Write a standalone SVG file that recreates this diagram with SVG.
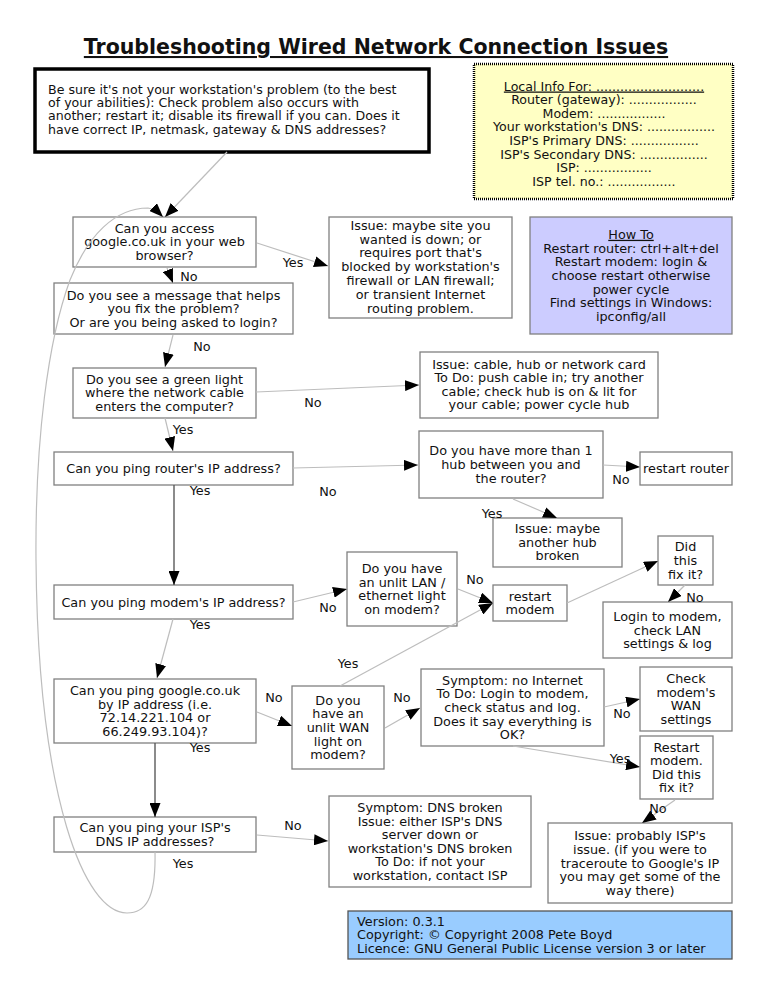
<svg xmlns="http://www.w3.org/2000/svg" width="768" height="994" viewBox="0 0 768 994">
<style>
.bx{fill:#fff;stroke:#808080;stroke-width:1.3}
.t{font-family:"DejaVu Sans","Liberation Sans",sans-serif;font-size:12.8px;fill:#111;text-anchor:middle}
.tc{font-family:"DejaVu Sans","Liberation Sans",sans-serif;font-size:12.6px;fill:#111}
.tl{font-family:"DejaVu Sans","Liberation Sans",sans-serif;font-size:12.8px;fill:#111}
.lb{font-family:"DejaVu Sans","Liberation Sans",sans-serif;font-size:12.8px;fill:#111;text-anchor:middle}
.e{fill:none;stroke:#bdbdbd;stroke-width:1.2;marker-end:url(#ah)}
.ed{fill:none;stroke:#5a5a5a;stroke-width:1.4;marker-end:url(#ah)}
</style>
<defs>
<marker id="ah" markerUnits="userSpaceOnUse" markerWidth="14" markerHeight="11" refX="14" refY="5.5" orient="auto"><path d="M0,0 L14,5.5 L0,11 Z" fill="#000"/></marker>
</defs>
<rect width="768" height="994" fill="#fff"/>
<text x="376" y="54" font-family="DejaVu Sans,Liberation Sans,sans-serif" font-weight="bold" font-size="20.5" text-anchor="middle" text-decoration="underline" fill="#111">Troubleshooting Wired Network Connection Issues</text>

<g id="n-intro"><rect x="35" y="69" width="394" height="83" fill="#fff" stroke="#000" stroke-width="3.5"/>
<text class="tc" x="48" y="93.5"><tspan x="48">Be sure it's not your workstation's problem (to the best</tspan><tspan x="48" dy="13.4">of your abilities): Check problem also occurs with</tspan><tspan x="48" dy="13.4">another; restart it; disable its firewall if you can. Does it</tspan><tspan x="48" dy="13.4">have correct IP, netmask, gateway &amp; DNS addresses?</tspan></text></g>

<g id="n-localinfo"><rect x="474" y="64" width="259" height="135" fill="#ffffc4" stroke="#000" stroke-width="2.5" stroke-dasharray="1 1"/>
<text class="tc" text-anchor="middle" x="604" y="90.5"><tspan x="604" text-decoration="underline">Local Info For: ...........................</tspan><tspan x="604" dy="13.65">Router (gateway): .................</tspan><tspan x="604" dy="13.65">Modem: .................</tspan><tspan x="604" dy="13.65">Your workstation's DNS: .................</tspan><tspan x="604" dy="13.65">ISP's Primary DNS: .................</tspan><tspan x="604" dy="13.65">ISP's Secondary DNS: .................</tspan><tspan x="604" dy="13.65">ISP: .................</tspan><tspan x="604" dy="13.65">ISP tel. no.: .................</tspan></text></g>

<g id="n-access"><rect class="bx" x="73" y="217" width="183" height="50"/>
<text class="t" y="233"><tspan x="164.5">Can you access</tspan><tspan x="164.5" dy="13.4">google.co.uk in your web</tspan><tspan x="164.5" dy="13.4">browser?</tspan></text></g>

<g id="n-message"><rect class="bx" x="54" y="283" width="239" height="51"/>
<text class="t" y="299.5"><tspan x="173.5">Do you see a message that helps</tspan><tspan x="173.5" dy="13.6">you fix the problem?</tspan><tspan x="173.5" dy="13.6">Or are you being asked to login?</tspan></text></g>

<g id="n-issue-site"><rect class="bx" x="329" y="217" width="183" height="101"/>
<text class="t" y="229.8"><tspan x="420.5">Issue: maybe site you</tspan><tspan x="420.5" dy="13.8">wanted is down; or</tspan><tspan x="420.5" dy="13.8">requires port that's</tspan><tspan x="420.5" dy="13.8">blocked by workstation's</tspan><tspan x="420.5" dy="13.8">firewall or LAN firewall;</tspan><tspan x="420.5" dy="13.8">or transient Internet</tspan><tspan x="420.5" dy="13.8">routing problem.</tspan></text></g>

<g id="n-howto"><rect x="530" y="217" width="202" height="117" fill="#ccccff" stroke="#808080" stroke-width="1.3"/>
<text class="t" y="238.8"><tspan x="631" text-decoration="underline">How To</tspan><tspan x="631" dy="13.7">Restart router: ctrl+alt+del</tspan><tspan x="631" dy="13.7">Restart modem: login &amp;</tspan><tspan x="631" dy="13.7">choose restart otherwise</tspan><tspan x="631" dy="13.7">power cycle</tspan><tspan x="631" dy="13.7">Find settings in Windows:</tspan><tspan x="631" dy="13.7">ipconfig/all</tspan></text></g>

<g id="n-green"><rect class="bx" x="73" y="368" width="183" height="50"/>
<text class="t" y="384"><tspan x="164.5">Do you see a green light</tspan><tspan x="164.5" dy="13.4">where the network cable</tspan><tspan x="164.5" dy="13.4">enters the computer?</tspan></text></g>

<g id="n-issue-cable"><rect class="bx" x="420" y="352" width="238" height="66"/>
<text class="t" y="368.5"><tspan x="539">Issue: cable, hub or network card</tspan><tspan x="539" dy="13.5">To Do: push cable in; try another</tspan><tspan x="539" dy="13.5">cable; check hub is on &amp; lit for</tspan><tspan x="539" dy="13.5">your cable; power cycle hub</tspan></text></g>

<g id="n-router"><rect class="bx" x="54" y="452" width="239" height="33"/>
<text class="t" x="173.5" y="473">Can you ping router's IP address?</text></g>

<g id="n-hubs"><rect class="bx" x="419" y="431" width="184" height="67"/>
<text class="t" y="455.4"><tspan x="511">Do you have more than 1</tspan><tspan x="511" dy="13.8">hub between you and</tspan><tspan x="511" dy="13.8">the router?</tspan></text></g>

<g id="n-restart-router"><rect class="bx" x="640" y="452" width="92" height="33"/>
<text class="t" x="686" y="473">restart router</text></g>

<g id="n-issue-hub"><rect class="bx" x="493" y="518" width="129" height="49"/>
<text class="t" y="533.4"><tspan x="557.5">Issue: maybe</tspan><tspan x="557.5" dy="13.5">another hub</tspan><tspan x="557.5" dy="13.5">broken</tspan></text></g>

<g id="n-didfix"><rect class="bx" x="658" y="536" width="55" height="49"/>
<text class="t" y="551.4"><tspan x="685.5">Did</tspan><tspan x="685.5" dy="13.6">this</tspan><tspan x="685.5" dy="13.6">fix it?</tspan></text></g>

<g id="n-lan"><rect class="bx" x="347" y="552" width="110" height="74"/>
<text class="t" y="573.1"><tspan x="402">Do you have</tspan><tspan x="402" dy="13.6">an unlit LAN /</tspan><tspan x="402" dy="13.6">ethernet light</tspan><tspan x="402" dy="13.6">on modem?</tspan></text></g>

<g id="n-modem"><rect class="bx" x="54" y="585" width="239" height="34"/>
<text class="t" x="173.5" y="606.5">Can you ping modem's IP address?</text></g>

<g id="n-restart-modem"><rect class="bx" x="493" y="585" width="74" height="36"/>
<text class="t" y="600.7"><tspan x="530">restart</tspan><tspan x="530" dy="13.6">modem</tspan></text></g>

<g id="n-login"><rect class="bx" x="603" y="602" width="129" height="56"/>
<text class="t" y="620.9"><tspan x="667.5">Login to modem,</tspan><tspan x="667.5" dy="13.6">check LAN</tspan><tspan x="667.5" dy="13.6">settings &amp; log</tspan></text></g>

<g id="n-google"><rect class="bx" x="54" y="679" width="202" height="64"/>
<text class="t" y="695.1"><tspan x="155">Can you ping google.co.uk</tspan><tspan x="155" dy="13.6">by IP address (i.e.</tspan><tspan x="155" dy="13.6">72.14.221.104 or</tspan><tspan x="155" dy="13.6">66.249.93.104)?</tspan></text></g>

<g id="n-wan"><rect class="bx" x="292" y="686" width="92" height="83"/>
<text class="t" y="704.8"><tspan x="338">Do you</tspan><tspan x="338" dy="13.6">have an</tspan><tspan x="338" dy="13.6">unlit WAN</tspan><tspan x="338" dy="13.6">light on</tspan><tspan x="338" dy="13.6">modem?</tspan></text></g>

<g id="n-nointernet"><rect class="bx" x="421" y="669" width="183" height="77"/>
<text class="t" y="684.8"><tspan x="512.5">Symptom: no Internet</tspan><tspan x="512.5" dy="13.6">To Do: Login to modem,</tspan><tspan x="512.5" dy="13.6">check status and log.</tspan><tspan x="512.5" dy="13.6">Does it say everything is</tspan><tspan x="512.5" dy="13.6">OK?</tspan></text></g>

<g id="n-checkwan"><rect class="bx" x="640" y="667" width="92" height="64"/>
<text class="t" y="683.1"><tspan x="686">Check</tspan><tspan x="686" dy="13.6">modem's</tspan><tspan x="686" dy="13.6">WAN</tspan><tspan x="686" dy="13.6">settings</tspan></text></g>

<g id="n-restart-fix"><rect class="bx" x="640" y="736" width="73" height="63"/>
<text class="t" y="751.6"><tspan x="676.5">Restart</tspan><tspan x="676.5" dy="13.6">modem.</tspan><tspan x="676.5" dy="13.6">Did this</tspan><tspan x="676.5" dy="13.6">fix it?</tspan></text></g>

<g id="n-dns"><rect class="bx" x="54" y="817" width="202" height="35"/>
<text class="t" y="832.2"><tspan x="155">Can you ping your ISP's</tspan><tspan x="155" dy="13.6">DNS IP addresses?</tspan></text></g>

<g id="n-dnsbroken"><rect class="bx" x="329" y="796" width="202" height="91"/>
<text class="t" y="812"><tspan x="430">Symptom: DNS broken</tspan><tspan x="430" dy="13.6">Issue: either ISP's DNS</tspan><tspan x="430" dy="13.6">server down or</tspan><tspan x="430" dy="13.6">workstation's DNS broken</tspan><tspan x="430" dy="13.6">To Do: if not your</tspan><tspan x="430" dy="13.6">workstation, contact ISP</tspan></text></g>

<g id="n-isp"><rect class="bx" x="548" y="823" width="184" height="80"/>
<text class="t" y="840.3"><tspan x="640">Issue: probably ISP's</tspan><tspan x="640" dy="13.6">issue. (if you were to</tspan><tspan x="640" dy="13.6">traceroute to Google's IP</tspan><tspan x="640" dy="13.6">you may get some of the</tspan><tspan x="640" dy="13.6">way there)</tspan></text></g>

<g id="n-version"><rect x="348" y="911" width="384" height="48" fill="#99ccff" stroke="#555" stroke-width="1.3"/>
<text class="tl" y="925.5"><tspan x="357">Version: 0.3.1</tspan><tspan x="357" dy="13.5">Copyright: © Copyright 2008 Pete Boyd</tspan><tspan x="357" dy="13.5">Licence: GNU General Public License version 3 or later</tspan></text></g>

<g id="connectors">
<path class="e" d="M227,152 L165,217"/>
<path class="e" d="M155,852 C156,900 145,913 127,913 C85,913 38,800 36,560 C35,440 48,340 70,280 C88,235 115,208 148,208 C154,209 159,213 163,217"/>
<path class="e" d="M257,243 L328,266"/>
<path class="e" d="M167,268 L173,283"/>
<path class="e" d="M173,335 L165,367"/>
<path class="e" d="M256,392 L419,385"/>
<path class="e" d="M165,418 L173,451"/>
<path class="e" d="M293,468 L418,465"/>
<path class="ed" d="M174,485 L174,585"/>
<path class="e" d="M603,465 L640,467"/>
<path class="e" d="M513,499 L557,518"/>
<path class="e" d="M293,602 L347,589"/>
<path class="e" d="M173,619 L157,678"/>
<path class="e" d="M458,589 L493,603"/>
<path class="e" d="M340,686 L493,603"/>
<path class="e" d="M567,603 L658,561"/>
<path class="e" d="M685,585 L668,602"/>
<path class="e" d="M257,712 L292,726"/>
<path class="ed" d="M155,743 L155,817"/>
<path class="e" d="M385,728 L420,708"/>
<path class="e" d="M604,707 L640,699"/>
<path class="e" d="M513,746 L640,767"/>
<path class="e" d="M675,800 L642,823"/>
<path class="e" d="M257,835 L328,841"/>
<g class="lb">
<text x="293" y="266.5">Yes</text>
<text x="189" y="280.5">No</text>
<text x="202" y="350.5">No</text>
<text x="313" y="406.5">No</text>
<text x="183" y="433.5">Yes</text>
<text x="328" y="495.5">No</text>
<text x="200" y="495">Yes</text>
<text x="621" y="484">No</text>
<text x="492" y="517.5">Yes</text>
<text x="328" y="611.5">No</text>
<text x="200" y="628.5">Yes</text>
<text x="475" y="583.5">No</text>
<text x="348" y="667.5">Yes</text>
<text x="695" y="601.5">No</text>
<text x="274" y="701.5">No</text>
<text x="200" y="751.5">Yes</text>
<text x="402" y="701.5">No</text>
<text x="622" y="717.5">No</text>
<text x="620" y="762.5">Yes</text>
<text x="658" y="812.5">No</text>
<text x="293" y="829.5">No</text>
<text x="183" y="867.5">Yes</text>
</g>
</g>
</svg>
